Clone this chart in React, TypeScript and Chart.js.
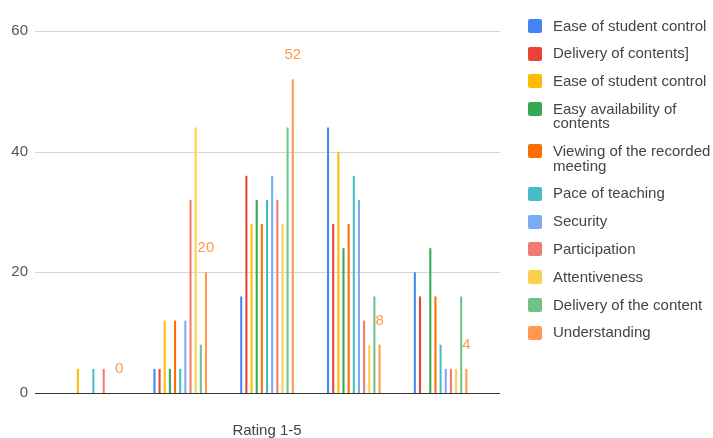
import React, { useEffect, useRef } from 'react';
import { Chart, registerables } from 'chart.js';

Chart.register(...registerables);

const categories = ['1', '2', '3', '4', '5'];
const yTicks = [0, 20, 40, 60];
const xTitle = 'Rating 1-5';

const seriesNames = [
  'Ease of student control',
  'Delivery of contents]',
  'Ease of student control',
  'Easy availability of contents',
  'Viewing of the recorded meeting',
  'Pace of teaching',
  'Security',
  'Participation',
  'Attentiveness',
  'Delivery of the content',
  'Understanding',
];

const seriesColors = [
  '#4285F4', '#EA4335', '#FBBC04', '#34A853', '#FF6D01', '#46BDC6',
  '#7BAAF7', '#F07B72', '#FCD04F', '#71C287', '#FF994D',
];

const easeOfStudentControlA = [0, 4, 16, 44, 20];
const deliveryOfContents = [0, 4, 36, 28, 16];
const easeOfStudentControlB = [4, 12, 28, 40, 0];
const easyAvailability = [0, 4, 32, 24, 24];
const viewingRecorded = [0, 12, 28, 28, 16];
const paceOfTeaching = [4, 4, 32, 36, 8];
const security = [0, 12, 36, 32, 4];
const participation = [4, 32, 32, 12, 4];
const attentiveness = [0, 44, 28, 8, 4];
const deliveryOfTheContent = [0, 8, 44, 16, 16];
const understanding = [0, 20, 52, 8, 4];

const seriesValues = [
  easeOfStudentControlA, deliveryOfContents, easeOfStudentControlB, easyAvailability,
  viewingRecorded, paceOfTeaching, security, participation, attentiveness,
  deliveryOfTheContent, understanding,
];

const labeledSeriesIndex = 10;

const FONT = '"Liberation Sans", Arial, sans-serif';

const gridPlugin = {
  id: 'customGrid',
  beforeDatasetsDraw(chart: any) {
    const { ctx, chartArea, scales } = chart;
    const y = scales.y;
    ctx.save();
    ctx.strokeStyle = '#d6d6d6';
    ctx.lineWidth = 1;
    yTicks.forEach((t) => {
      if (t === 0) return;
      const py = Math.round(y.getPixelForValue(t)) + 0.5;
      ctx.beginPath();
      ctx.moveTo(chartArea.left - 15, py);
      ctx.lineTo(chartArea.right + 16, py);
      ctx.stroke();
    });
    ctx.restore();
  },
  afterDatasetsDraw(chart: any) {
    const { ctx, chartArea, scales } = chart;
    const y = scales.y;
    ctx.save();
    ctx.strokeStyle = '#333333';
    ctx.lineWidth = 1;
    const py = Math.round(y.getPixelForValue(0)) + 0.5;
    ctx.beginPath();
    ctx.moveTo(chartArea.left - 15, py);
    ctx.lineTo(chartArea.right + 16, py);
    ctx.stroke();

    const meta = chart.getDatasetMeta(labeledSeriesIndex);
    ctx.fillStyle = '#FF994D';
    ctx.font = `15px ${FONT}`;
    ctx.textAlign = 'center';
    ctx.textBaseline = 'middle';
    meta.data.forEach((bar: any, i: number) => {
      const v = seriesValues[labeledSeriesIndex][i];
      ctx.fillText(String(v), bar.x, bar.y - 24);
    });
    ctx.restore();
  },
};

export default function App() {
  const canvasRef = useRef<HTMLCanvasElement>(null);

  useEffect(() => {
    document.body.style.margin = '0';
    document.body.style.overflow = 'hidden';
    const canvas = canvasRef.current;
    if (!canvas) return;
    const chart = new Chart(canvas, {
      type: 'bar',
      data: {
        labels: categories,
        datasets: seriesNames.map((name, i) => ({
          label: name,
          data: seriesValues[i],
          backgroundColor: seriesColors[i],
          borderWidth: 0,
          barPercentage: 0.4,
          categoryPercentage: 0.653,
        })),
      },
      options: {
        responsive: false,
        animation: false,
        devicePixelRatio: 1,
        layout: { padding: { top: 24, right: 229, bottom: 0, left: 0 } },
        plugins: {
          legend: { display: false },
          tooltip: { enabled: false },
        },
        scales: {
          x: {
            grid: { display: false, drawTicks: false },
            border: { display: false },
            ticks: { display: false },
            title: {
              display: true,
              text: xTitle,
              color: '#444',
              font: { size: 15, family: FONT, lineHeight: 1 },
              padding: { top: 30, bottom: 0 },
            },
          },
          y: {
            min: 0,
            max: 60,
            afterFit(scale: any) {
              scale.width = 50;
            },
            afterBuildTicks(scale: any) {
              scale.ticks = yTicks.map((v) => ({ value: v }));
            },
            grid: { display: false, drawTicks: false },
            border: { display: false },
            ticks: {
              color: '#555',
              padding: 22,
              font: { size: 15, family: FONT },
            },
          },
        },
      },
      plugins: [gridPlugin],
    });
    return () => chart.destroy();
  }, []);

  return (
    <div style={{ position: 'relative', width: 713, height: 438, background: '#fff' }}>
      <canvas ref={canvasRef} width={713} height={438} style={{ display: 'block' }} />
      <div style={{ position: 'absolute', left: 528, top: 18.5, fontFamily: FONT }}>
        {seriesNames.map((name, i) => (
          <div key={i} style={{ display: 'flex', alignItems: 'flex-start', marginBottom: 13.3 }}>
            <div
              style={{
                width: 14,
                height: 14,
                marginTop: 0.25,
                marginRight: 11,
                borderRadius: 2,
                background: seriesColors[i],
                flex: 'none',
              }}
            />
            <div style={{ width: 160, fontSize: 15, lineHeight: '14.5px', color: '#444' }}>{name}</div>
          </div>
        ))}
      </div>
    </div>
  );
}
